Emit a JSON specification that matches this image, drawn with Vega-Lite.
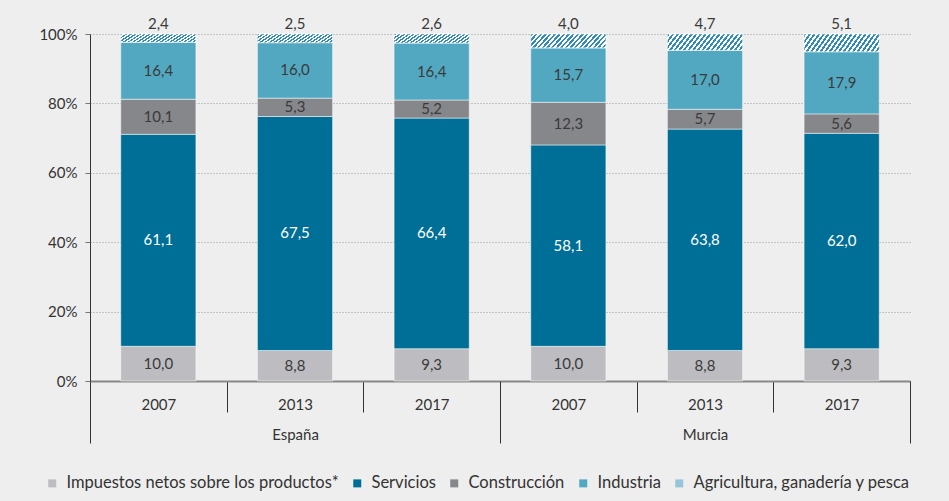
{
  "$schema": "https://vega.github.io/schema/vega-lite/v6.json",
  "width": 820,
  "height": 347,
  "autosize": {"type": "none"},
  "padding": {"left": 90, "top": 34, "right": 39, "bottom": 120},
  "background": "#eeeeee",
  "config": {
    "view": {"stroke": null},
    "font": "Lato",
    "locale": {"number": {"decimal": ",", "thousands": ".", "grouping": [3], "currency": ["", " €"]}},
    "axisY": {"grid": true, "gridDash": [1, 2], "gridColor": "#9a9a9a", "tickSize": 5, "tickColor": "#777777", "domainColor": "#333333", "labelFontSize": 15, "labelColor": "#333333", "labelPadding": 8}
  },
  "data": {
    "values": [
      {"clave": "España 2007", "pais": "España", "sector": "Impuestos netos sobre los productos*", "orden": 1, "valor": 10.0},
      {"clave": "España 2007", "pais": "España", "sector": "Servicios", "orden": 2, "valor": 61.1},
      {"clave": "España 2007", "pais": "España", "sector": "Construcción", "orden": 3, "valor": 10.1},
      {"clave": "España 2007", "pais": "España", "sector": "Industria", "orden": 4, "valor": 16.4},
      {"clave": "España 2007", "pais": "España", "sector": "Agricultura, ganadería y pesca", "orden": 5, "valor": 2.4},
      {"clave": "España 2013", "pais": "España", "sector": "Impuestos netos sobre los productos*", "orden": 1, "valor": 8.8},
      {"clave": "España 2013", "pais": "España", "sector": "Servicios", "orden": 2, "valor": 67.5},
      {"clave": "España 2013", "pais": "España", "sector": "Construcción", "orden": 3, "valor": 5.3},
      {"clave": "España 2013", "pais": "España", "sector": "Industria", "orden": 4, "valor": 16.0},
      {"clave": "España 2013", "pais": "España", "sector": "Agricultura, ganadería y pesca", "orden": 5, "valor": 2.5},
      {"clave": "España 2017", "pais": "España", "sector": "Impuestos netos sobre los productos*", "orden": 1, "valor": 9.3},
      {"clave": "España 2017", "pais": "España", "sector": "Servicios", "orden": 2, "valor": 66.4},
      {"clave": "España 2017", "pais": "España", "sector": "Construcción", "orden": 3, "valor": 5.2},
      {"clave": "España 2017", "pais": "España", "sector": "Industria", "orden": 4, "valor": 16.4},
      {"clave": "España 2017", "pais": "España", "sector": "Agricultura, ganadería y pesca", "orden": 5, "valor": 2.6},
      {"clave": "Murcia 2007", "pais": "Murcia", "sector": "Impuestos netos sobre los productos*", "orden": 1, "valor": 10.0},
      {"clave": "Murcia 2007", "pais": "Murcia", "sector": "Servicios", "orden": 2, "valor": 58.1},
      {"clave": "Murcia 2007", "pais": "Murcia", "sector": "Construcción", "orden": 3, "valor": 12.3},
      {"clave": "Murcia 2007", "pais": "Murcia", "sector": "Industria", "orden": 4, "valor": 15.7},
      {"clave": "Murcia 2007", "pais": "Murcia", "sector": "Agricultura, ganadería y pesca", "orden": 5, "valor": 4.0},
      {"clave": "Murcia 2013", "pais": "Murcia", "sector": "Impuestos netos sobre los productos*", "orden": 1, "valor": 8.8},
      {"clave": "Murcia 2013", "pais": "Murcia", "sector": "Servicios", "orden": 2, "valor": 63.8},
      {"clave": "Murcia 2013", "pais": "Murcia", "sector": "Construcción", "orden": 3, "valor": 5.7},
      {"clave": "Murcia 2013", "pais": "Murcia", "sector": "Industria", "orden": 4, "valor": 17.0},
      {"clave": "Murcia 2013", "pais": "Murcia", "sector": "Agricultura, ganadería y pesca", "orden": 5, "valor": 4.7},
      {"clave": "Murcia 2017", "pais": "Murcia", "sector": "Impuestos netos sobre los productos*", "orden": 1, "valor": 9.3},
      {"clave": "Murcia 2017", "pais": "Murcia", "sector": "Servicios", "orden": 2, "valor": 62.0},
      {"clave": "Murcia 2017", "pais": "Murcia", "sector": "Construcción", "orden": 3, "valor": 5.6},
      {"clave": "Murcia 2017", "pais": "Murcia", "sector": "Industria", "orden": 4, "valor": 17.9},
      {"clave": "Murcia 2017", "pais": "Murcia", "sector": "Agricultura, ganadería y pesca", "orden": 5, "valor": 5.1}
    ]
  },
  "transform": [
    {"stack": "valor", "groupby": ["clave"], "sort": [{"field": "orden", "order": "ascending"}], "offset": "normalize", "as": ["v0", "v1"]},
    {"calculate": "(datum.v0 + datum.v1) / 2", "as": "mid"}
  ],
  "layer": [
    {
      "mark": {"type": "bar", "stroke": "#ffffff", "strokeOpacity": 0.5, "strokeWidth": 1},
      "encoding": {
        "x": {"field": "clave", "type": "nominal", "scale": {"type": "band", "paddingInner": 0.45, "paddingOuter": 0.225}, "axis": null},
        "y": {"field": "v0", "type": "quantitative", "scale": {"domain": [0, 1], "nice": false}, "title": null,
          "axis": {"format": ".0%", "values": [0, 0.2, 0.4, 0.6, 0.8, 1]}},
        "y2": {"field": "v1"},
        "color": {
          "field": "sector", "type": "nominal",
          "scale": {
            "domain": ["Impuestos netos sobre los productos*", "Servicios", "Construcción", "Industria", "Agricultura, ganadería y pesca"],
            "range": ["#bdbdc1", "#006f97", "#86878b", "#52a8c1", "#96c5db"]
          },
          "legend": {"orient": "none", "legendX": -46, "legendY": 441, "direction": "horizontal", "columns": 5, "title": null, "symbolType": "square", "symbolSize": 64, "symbolStrokeWidth": 0, "labelFontSize": 16.5, "labelColor": "#333333", "labelOffset": 6, "columnPadding": 10, "labelLimit": 400,
            "encode": {"symbols": {"fill": [
              {"test": "datum.value === 'Agricultura, ganadería y pesca'", "value": {"gradient": "linear", "x1": 0, "y1": 1, "x2": 1, "y2": 0, "stops": [
                {"offset": 0, "color": "#eeeeee"}, {"offset": 0.15, "color": "#eeeeee"}, {"offset": 0.15, "color": "#2f8ab8"}, {"offset": 0.27, "color": "#2f8ab8"},
                {"offset": 0.27, "color": "#eeeeee"}, {"offset": 0.44, "color": "#eeeeee"}, {"offset": 0.44, "color": "#2f8ab8"}, {"offset": 0.56, "color": "#2f8ab8"},
                {"offset": 0.56, "color": "#eeeeee"}, {"offset": 0.73, "color": "#eeeeee"}, {"offset": 0.73, "color": "#2f8ab8"}, {"offset": 0.85, "color": "#2f8ab8"},
                {"offset": 0.85, "color": "#eeeeee"}, {"offset": 1, "color": "#eeeeee"}
              ]}},
              {"scale": "color", "field": "value"}
            ]}}
          }
        }
      }
    },
    {
      "transform": [{"filter": "datum.orden === 5"}],
      "mark": {"type": "bar", "stroke": "#ffffff", "strokeOpacity": 0.5, "strokeWidth": 1,
        "fill": {"gradient": "linear", "x1": 0, "y1": 0, "x2": 1.2, "y2": 0.2, "stops": [
                {"offset": 0, "color": "#2f8ab8"}, {"offset": 0.025, "color": "#2f8ab8"}, {"offset": 0.025, "color": "#ffffff"}, {"offset": 0.05, "color": "#ffffff"},
                {"offset": 0.05, "color": "#2f8ab8"}, {"offset": 0.075, "color": "#2f8ab8"}, {"offset": 0.075, "color": "#ffffff"}, {"offset": 0.1, "color": "#ffffff"},
                {"offset": 0.1, "color": "#2f8ab8"}, {"offset": 0.125, "color": "#2f8ab8"}, {"offset": 0.125, "color": "#ffffff"}, {"offset": 0.15, "color": "#ffffff"},
                {"offset": 0.15, "color": "#2f8ab8"}, {"offset": 0.175, "color": "#2f8ab8"}, {"offset": 0.175, "color": "#ffffff"}, {"offset": 0.2, "color": "#ffffff"},
                {"offset": 0.2, "color": "#2f8ab8"}, {"offset": 0.225, "color": "#2f8ab8"}, {"offset": 0.225, "color": "#ffffff"}, {"offset": 0.25, "color": "#ffffff"},
                {"offset": 0.25, "color": "#2f8ab8"}, {"offset": 0.275, "color": "#2f8ab8"}, {"offset": 0.275, "color": "#ffffff"}, {"offset": 0.3, "color": "#ffffff"},
                {"offset": 0.3, "color": "#2f8ab8"}, {"offset": 0.325, "color": "#2f8ab8"}, {"offset": 0.325, "color": "#ffffff"}, {"offset": 0.35, "color": "#ffffff"},
                {"offset": 0.35, "color": "#2f8ab8"}, {"offset": 0.375, "color": "#2f8ab8"}, {"offset": 0.375, "color": "#ffffff"}, {"offset": 0.4, "color": "#ffffff"},
                {"offset": 0.4, "color": "#2f8ab8"}, {"offset": 0.425, "color": "#2f8ab8"}, {"offset": 0.425, "color": "#ffffff"}, {"offset": 0.45, "color": "#ffffff"},
                {"offset": 0.45, "color": "#2f8ab8"}, {"offset": 0.475, "color": "#2f8ab8"}, {"offset": 0.475, "color": "#ffffff"}, {"offset": 0.5, "color": "#ffffff"},
                {"offset": 0.5, "color": "#2f8ab8"}, {"offset": 0.525, "color": "#2f8ab8"}, {"offset": 0.525, "color": "#ffffff"}, {"offset": 0.55, "color": "#ffffff"},
                {"offset": 0.55, "color": "#2f8ab8"}, {"offset": 0.575, "color": "#2f8ab8"}, {"offset": 0.575, "color": "#ffffff"}, {"offset": 0.6, "color": "#ffffff"},
                {"offset": 0.6, "color": "#2f8ab8"}, {"offset": 0.625, "color": "#2f8ab8"}, {"offset": 0.625, "color": "#ffffff"}, {"offset": 0.65, "color": "#ffffff"},
                {"offset": 0.65, "color": "#2f8ab8"}, {"offset": 0.675, "color": "#2f8ab8"}, {"offset": 0.675, "color": "#ffffff"}, {"offset": 0.7, "color": "#ffffff"},
                {"offset": 0.7, "color": "#2f8ab8"}, {"offset": 0.725, "color": "#2f8ab8"}, {"offset": 0.725, "color": "#ffffff"}, {"offset": 0.75, "color": "#ffffff"},
                {"offset": 0.75, "color": "#2f8ab8"}, {"offset": 0.775, "color": "#2f8ab8"}, {"offset": 0.775, "color": "#ffffff"}, {"offset": 0.8, "color": "#ffffff"},
                {"offset": 0.8, "color": "#2f8ab8"}, {"offset": 0.825, "color": "#2f8ab8"}, {"offset": 0.825, "color": "#ffffff"}, {"offset": 0.85, "color": "#ffffff"},
                {"offset": 0.85, "color": "#2f8ab8"}, {"offset": 0.875, "color": "#2f8ab8"}, {"offset": 0.875, "color": "#ffffff"}, {"offset": 0.9, "color": "#ffffff"},
                {"offset": 0.9, "color": "#2f8ab8"}, {"offset": 0.925, "color": "#2f8ab8"}, {"offset": 0.925, "color": "#ffffff"}, {"offset": 0.95, "color": "#ffffff"},
                {"offset": 0.95, "color": "#2f8ab8"}, {"offset": 0.975, "color": "#2f8ab8"}, {"offset": 0.975, "color": "#ffffff"}, {"offset": 1, "color": "#ffffff"}
        ]}},
      "encoding": {
        "x": {"field": "clave", "type": "nominal", "scale": {"type": "band", "paddingInner": 0.45, "paddingOuter": 0.225}, "axis": null},
        "y": {"field": "v0", "type": "quantitative", "title": null, "axis": {"format": ".0%", "values": [0, 0.2, 0.4, 0.6, 0.8, 1]}},
        "y2": {"field": "v1"}
      }
    },
    {
      "transform": [{"filter": "datum.orden < 5"}],
      "mark": {"type": "text", "fontSize": 15, "baseline": "middle", "align": "center"},
      "encoding": {
        "x": {"field": "clave", "type": "nominal", "scale": {"type": "band", "paddingInner": 0.45, "paddingOuter": 0.225}, "axis": null},
        "y": {"field": "mid", "type": "quantitative", "title": null, "axis": {"format": ".0%", "values": [0, 0.2, 0.4, 0.6, 0.8, 1]}},
        "text": {"field": "valor", "type": "quantitative", "format": ".1f"},
        "color": {"condition": {"test": "datum.orden === 2", "value": "#ffffff"}, "value": "#3a3a3a"}
      }
    },
    {
      "transform": [{"filter": "datum.orden === 5"}],
      "mark": {"type": "text", "fontSize": 15, "baseline": "alphabetic", "align": "center", "dy": -5, "color": "#3a3a3a"},
      "encoding": {
        "x": {"field": "clave", "type": "nominal", "scale": {"type": "band", "paddingInner": 0.45, "paddingOuter": 0.225}, "axis": null},
        "y": {"field": "v1", "type": "quantitative", "title": null, "axis": {"format": ".0%", "values": [0, 0.2, 0.4, 0.6, 0.8, 1]}},
        "text": {"field": "valor", "type": "quantitative", "format": ".1f"}
      }
    },
    {
      "mark": {"type": "rule", "opacity": 0},
      "encoding": {
        "x": {"field": "clave", "type": "nominal", "scale": {"type": "band", "paddingInner": 0, "paddingOuter": 0},
          "axis": {"orient": "bottom", "tickBand": "extent", "tickSize": 31, "tickColor": "#333333", "tickWidth": 1, "domainColor": "#888888", "domainWidth": 2, "labelExpr": "slice(datum.label, -4)", "labelFontSize": 15, "labelColor": "#333333", "labelPadding": -15, "labelAngle": 0, "title": null, "grid": false}}
      }
    },
    {
      "mark": {"type": "rule", "opacity": 0},
      "encoding": {
        "x": {"field": "pais", "type": "nominal", "scale": {"type": "band", "paddingInner": 0, "paddingOuter": 0},
          "axis": {"orient": "bottom", "tickBand": "extent", "tickSize": 62, "tickColor": "#333333", "tickWidth": 1, "domain": false, "labelFontSize": 15, "labelColor": "#333333", "labelPadding": -16, "labelAngle": 0, "title": null, "grid": false}}
      }
    }
  ],
  "resolve": {"scale": {"x": "independent"}, "axis": {"x": "independent"}}
}
